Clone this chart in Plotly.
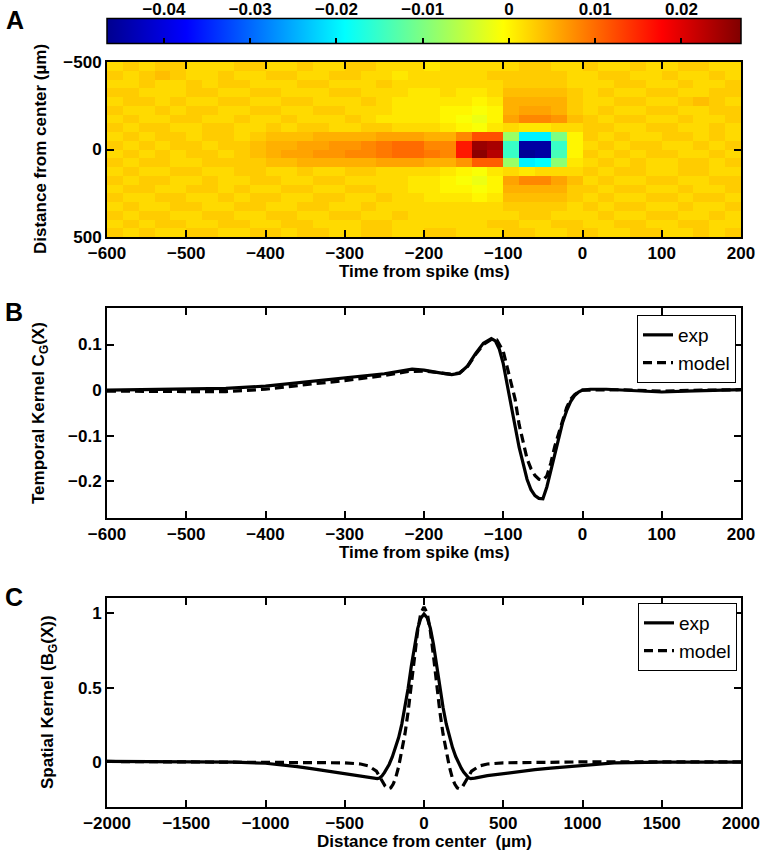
import numpy as np
import plotly.graph_objects as go

W, H = 762, 853

# ---------------- Panel A: spatio-temporal kernel (heatmap) ----------------
time_centers = list(range(-590, 200, 20))          # ms, 40 columns
dist_centers = list(range(-475, 500, 50))          # um, 20 rows
# values in units of 0.001, rows from -475 um (top) to 475 um (bottom)
heat_milli = [
    [2,3,2,3,3,2,2,2,3,3,2,2,3,2,2,3,3,2,2,2,1,2,2,2,2,2,3,3,2,2,3,2,2,3,2,2,3,3,2,2],
    [3,2,3,4,3,2,2,3,2,2,3,3,2,2,3,3,2,2,1,2,2,2,2,2,3,3,3,3,3,2,2,3,3,2,2,3,2,2,3,2],
    [2,2,3,2,2,3,2,3,3,2,2,2,3,3,2,2,2,3,2,2,2,2,2,2,2,3,3,3,3,2,2,2,3,3,2,2,3,2,2,3],
    [3,3,2,2,2,3,3,2,2,3,3,2,2,2,3,3,2,2,2,1,1,2,1,1,2,4,4,4,4,3,2,3,2,2,3,3,2,2,3,3],
    [2,3,3,2,3,2,2,3,3,2,2,3,3,2,2,2,3,2,1,1,1,1,1,0,1,5,5,5,5,3,2,2,3,3,2,2,3,4,3,2],
    [3,2,2,3,2,3,3,2,2,3,3,2,2,3,3,2,2,2,1,1,1,0,0,-1,0,5,6,6,5,3,2,3,2,2,3,3,2,2,3,3],
    [2,3,2,2,3,3,2,2,3,2,2,3,2,2,2,3,2,1,1,1,1,0,-1,-2,0,6,8,8,7,4,3,2,3,3,2,2,3,2,2,3],
    [3,2,3,3,2,2,3,3,2,2,3,2,3,3,2,2,3,3,2,2,2,1,0,-1,1,2,1,1,2,2,3,3,2,2,3,3,2,2,3,2],
    [2,3,2,3,3,2,3,3,2,3,4,4,4,5,5,5,5,6,6,6,5,5,8,12,12,-8,-20,-20,-10,0,3,2,3,2,2,3,3,2,3,2],
    [3,2,3,2,3,3,2,3,3,4,5,5,6,6,7,7,8,9,10,10,8,8,16,25,24,-15,-45,-45,-15,0,2,3,2,3,3,2,2,3,2,3],
    [2,3,2,3,2,3,3,2,3,4,5,6,6,7,7,8,8,9,10,10,9,8,16,26,23,-15,-46,-45,-14,0,3,2,3,2,3,3,2,2,3,2],
    [3,2,3,3,2,2,3,3,3,3,4,4,5,5,5,5,5,6,6,6,5,5,7,11,11,-8,-20,-19,-9,1,2,3,2,3,2,2,3,3,2,3],
    [2,3,2,2,3,3,2,2,3,3,2,2,3,2,2,3,3,2,2,2,2,1,0,-1,1,2,1,2,2,2,3,2,3,3,2,2,3,3,2,2],
    [3,2,3,3,2,2,3,2,2,3,3,2,2,3,3,2,2,2,2,1,1,0,-1,-2,0,6,8,8,6,4,2,3,2,2,3,3,2,2,3,3],
    [2,3,3,2,2,3,3,2,3,2,2,3,3,2,2,3,3,2,2,1,1,0,0,-1,0,5,5,5,5,3,3,2,3,3,2,2,3,2,2,3],
    [3,2,2,3,3,2,2,3,2,3,3,2,2,3,3,2,2,3,2,2,1,1,1,0,1,4,4,4,4,3,2,3,2,2,3,3,2,3,3,2],
    [2,3,2,2,3,3,2,2,3,3,2,2,3,3,2,2,3,2,2,2,2,2,2,2,2,3,3,3,3,2,3,2,3,3,2,2,3,2,2,3],
    [3,2,3,3,2,2,3,3,2,2,3,3,2,2,3,3,2,2,3,2,2,2,2,2,2,2,3,3,2,2,2,3,2,2,3,3,2,2,3,2],
    [2,3,2,3,3,2,2,3,3,2,2,3,3,2,2,2,3,3,2,2,2,2,2,2,3,3,2,2,3,3,2,2,3,3,2,2,3,3,2,2],
    [3,2,3,2,2,3,3,2,2,3,3,2,3,3,2,2,3,3,2,2,3,3,2,2,2,3,3,2,2,3,3,2,2,3,3,2,2,3,2,3],
]
cbar_min, cbar_max = -0.0466, 0.0269
cbar_ticks = [-0.04, -0.03, -0.02, -0.01, 0, 0.01, 0.02]
cbar_labels = ["\u22120.04", "\u22120.03", "\u22120.02", "\u22120.01", "0", "0.01", "0.02"]

# ---------------- Panel B: temporal kernel ----------------
t_exp = [-600,-550,-500,-450,-400,-350,-335,-300,-250,-215,-200,-180,-165,-155,-145,-135,-125,-115,-110,-105,-100,-95,-90,-85,-80,-75,-70,-65,-60,-55,-50,-45,-40,-35,-30,-25,-20,-15,-10,-5,0,10,30,60,100,130,160,200]
c_exp = [0.000,0.001,0.002,0.004,0.009,0.018,0.022,0.027,0.036,0.046,0.044,0.038,0.034,0.037,0.053,0.080,0.103,0.113,0.108,0.090,0.058,0.012,-0.035,-0.080,-0.125,-0.160,-0.195,-0.218,-0.231,-0.237,-0.238,-0.212,-0.175,-0.140,-0.100,-0.070,-0.045,-0.025,-0.012,-0.004,0.000,0.002,0.002,0.000,-0.004,-0.002,0.000,0.001]
t_mod = [-600,-550,-500,-450,-400,-350,-300,-250,-220,-200,-180,-165,-155,-145,-135,-125,-115,-108,-100,-95,-90,-85,-80,-75,-70,-65,-60,-55,-50,-45,-40,-35,-30,-25,-20,-15,-10,-5,0,50,100,150,200]
c_mod = [-0.002,-0.003,-0.003,-0.003,0.002,0.012,0.021,0.032,0.041,0.042,0.038,0.035,0.038,0.052,0.078,0.100,0.111,0.110,0.085,0.050,0.018,-0.020,-0.075,-0.115,-0.150,-0.172,-0.187,-0.195,-0.197,-0.188,-0.160,-0.123,-0.095,-0.065,-0.038,-0.020,-0.010,-0.004,0.000,0.001,-0.002,0.000,0.001]

# ---------------- Panel C: spatial kernel ----------------
x_exp = [-2000,-1500,-1200,-1000,-900,-800,-700,-600,-500,-400,-320,-295,-280,-265,-250,-235,-220,-200,-180,-160,-140,-120,-100,-80,-60,-40,-20,0,20,40,60,80,100,120,140,160,180,200,220,235,250,265,280,295,320,400,500,600,700,800,900,1000,1200,1500,2000]
b_exp = [0.005,0.002,0.000,-0.007,-0.017,-0.030,-0.045,-0.060,-0.078,-0.095,-0.106,-0.110,-0.106,-0.092,-0.070,-0.045,-0.015,0.035,0.095,0.165,0.255,0.365,0.495,0.645,0.785,0.895,0.965,0.992,0.968,0.898,0.788,0.648,0.498,0.368,0.258,0.168,0.098,0.038,-0.012,-0.040,-0.066,-0.088,-0.103,-0.110,-0.107,-0.090,-0.075,-0.062,-0.050,-0.040,-0.030,-0.020,-0.005,0.000,0.000]
x_mod = [-2000,-1000,-700,-500,-400,-350,-300,-270,-245,-225,-210,-195,-180,-160,-140,-120,-100,-80,-60,-40,-20,0,20,40,60,80,100,120,140,160,180,195,210,225,245,270,300,350,400,500,700,1000,2000]
b_mod = [0.005,0.002,0.000,-0.004,-0.012,-0.025,-0.060,-0.110,-0.160,-0.178,-0.172,-0.148,-0.110,-0.030,0.070,0.190,0.340,0.520,0.710,0.880,1.000,1.040,1.000,0.880,0.710,0.520,0.340,0.190,0.070,-0.030,-0.110,-0.148,-0.172,-0.178,-0.160,-0.110,-0.060,-0.025,-0.012,-0.004,0.000,0.002,0.002]

# ---------------- styling helpers ----------------
FONT = "Liberation Sans, Arial, Helvetica, sans-serif"
jet = [[0.0, "rgb(0,0,143)"], [0.125, "rgb(0,0,255)"], [0.375, "rgb(0,255,255)"],
       [0.625, "rgb(255,255,0)"], [0.875, "rgb(255,0,0)"], [1.0, "rgb(128,0,0)"]]

def px_x(p):
    return p / W

def px_y(p):
    return 1 - p / H

X_DOM = [px_x(107), px_x(741)]
tickfont = dict(family=FONT, size=17, color="black", weight="bold")

fig = go.Figure()

fig.add_trace(go.Heatmap(
    x=time_centers, y=dist_centers, z=(np.array(heat_milli) * 0.001).tolist(),
    colorscale=jet, zmin=cbar_min, zmax=cbar_max, xaxis="x", yaxis="y",
    colorbar=dict(orientation="h", x=px_x(424), xanchor="center", y=px_y(51), yanchor="bottom",
                  len=634, lenmode="pixels", thickness=25, thicknessmode="pixels",
                  xpad=0, ypad=0, outlinewidth=1.5, outlinecolor="black",
                  tickvals=cbar_ticks, ticks="inside", ticklen=6,
                  tickwidth=1.5, tickcolor="black", showticklabels=False),
    hoverinfo="skip"))

# axis carrying the colour-bar tick labels above the bar
fig.add_trace(go.Scatter(x=cbar_ticks, y=[0] * len(cbar_ticks), mode="markers",
                         marker=dict(opacity=0), xaxis="x4", yaxis="y4",
                         showlegend=False, hoverinfo="skip"))

line_w = 3.2
fig.add_trace(go.Scatter(x=t_exp, y=c_exp, mode="lines", name="exp", xaxis="x2", yaxis="y2",
                         line=dict(color="black", width=line_w), legend="legend"))
fig.add_trace(go.Scatter(x=t_mod, y=c_mod, mode="lines", name="model", xaxis="x2", yaxis="y2",
                         line=dict(color="black", width=line_w, dash="9px,5px"), legend="legend"))
fig.add_trace(go.Scatter(x=x_exp, y=b_exp, mode="lines", name="exp", xaxis="x3", yaxis="y3",
                         line=dict(color="black", width=line_w), legend="legend2"))
fig.add_trace(go.Scatter(x=x_mod, y=b_mod, mode="lines", name="model", xaxis="x3", yaxis="y3",
                         line=dict(color="black", width=line_w, dash="9px,5px"), legend="legend2"))

common = dict(showline=True, linewidth=2, linecolor="black", mirror="ticks", ticks="inside",
              ticklen=7, tickwidth=1.8, tickcolor="black", showgrid=False, zeroline=False,
              tickfont=tickfont, fixedrange=True, ticklabeloverflow="allow")

fig.update_layout(
    width=W, height=H, margin=dict(l=0, r=0, t=0, b=0, pad=0, autoexpand=False),
    paper_bgcolor="white", plot_bgcolor="white",
    font=dict(family=FONT, color="black"),
    xaxis=dict(domain=X_DOM, anchor="y", range=[-600, 200],
               tickvals=[-600, -500, -400, -300, -200, -100, 0, 100, 200], **common),
    yaxis=dict(domain=[px_y(237), px_y(62)], anchor="x", range=[500, -500],
               tickvals=[-500, 0, 500], **common),
    xaxis2=dict(domain=X_DOM, anchor="y2", range=[-600, 200],
                tickvals=[-600, -500, -400, -300, -200, -100, 0, 100, 200], **common),
    yaxis2=dict(domain=[px_y(518), px_y(308)], anchor="x2", range=[-0.28, 0.18],
                tickvals=[-0.2, -0.1, 0, 0.1], **common),
    xaxis3=dict(domain=X_DOM, anchor="y3", range=[-2000, 2000],
                tickvals=[-2000, -1500, -1000, -500, 0, 500, 1000, 1500, 2000], **common),
    yaxis3=dict(domain=[px_y(807), px_y(598)], anchor="x3", range=[-0.3, 1.1],
                tickvals=[0, 0.5, 1], **common),
    xaxis4=dict(domain=X_DOM, anchor="y4", side="top", range=[cbar_min, cbar_max],
                tickvals=cbar_ticks, ticktext=cbar_labels, ticks="", showline=False,
                showgrid=False, zeroline=False, tickfont=tickfont, fixedrange=True,
                ticklabeloverflow="allow"),
    yaxis4=dict(domain=[px_y(42), px_y(19)], anchor="x4", range=[-1, 1], visible=False,
                fixedrange=True),
    legend=dict(x=px_x(736), xanchor="right", y=px_y(315), yanchor="top",
                bordercolor="black", borderwidth=1, bgcolor="white",
                font=dict(family=FONT, size=19, color="black"), tracegroupgap=0,
                itemwidth=30),
    legend2=dict(x=px_x(737), xanchor="right", y=px_y(603), yanchor="top",
                 bordercolor="black", borderwidth=1, bgcolor="white",
                 font=dict(family=FONT, size=19, color="black"), tracegroupgap=0,
                 itemwidth=30),
    showlegend=True,
)

title_font = dict(family=FONT, size=17, color="black", weight="bold")
letter_font = dict(family=FONT, size=25, color="black", weight="bold")
annotations = [
    dict(text="A", x=px_x(4), y=px_y(20), xanchor="left", yanchor="middle", font=letter_font),
    dict(text="B", x=px_x(3), y=px_y(312), xanchor="left", yanchor="middle", font=letter_font),
    dict(text="C", x=px_x(3), y=px_y(597), xanchor="left", yanchor="middle", font=letter_font),
    dict(text="Distance from center (\u00b5m)", x=px_x(41), y=px_y(149), textangle=-90,
         xanchor="center", yanchor="middle", font=title_font),
    dict(text="Time from spike (ms)", x=px_x(424), y=px_y(271), xanchor="center",
         yanchor="middle", font=title_font),
    dict(text="Temporal Kernel C<sub>G</sub>(X)", x=px_x(40), y=px_y(413), textangle=-90,
         xanchor="center", yanchor="middle", font=title_font),
    dict(text="Time from spike (ms)", x=px_x(424), y=px_y(552), xanchor="center",
         yanchor="middle", font=title_font),
    dict(text="Spatial Kernel (B<sub>G</sub>(X))", x=px_x(49), y=px_y(702), textangle=-90,
         xanchor="center", yanchor="middle", font=title_font),
    dict(text="Distance from center \u00a0(\u00b5m)", x=px_x(424), y=px_y(841), xanchor="center",
         yanchor="middle", font=title_font),
]
for a in annotations:
    a.update(xref="paper", yref="paper", showarrow=False)
fig.update_layout(annotations=annotations)

fig.write_html("out.html", config={"displayModeBar": False},
               post_script="document.body.style.margin='0';document.body.style.padding='0';")
